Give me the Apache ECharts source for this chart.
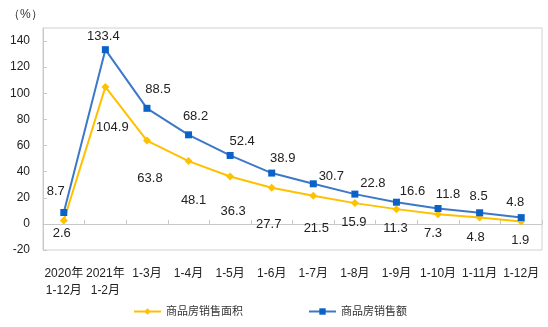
<!DOCTYPE html>
<html><head><meta charset="utf-8">
<script src="https://cdn.jsdelivr.net/npm/echarts@6/dist/echarts.min.js"></script>
<style>html,body{margin:0;padding:0;background:#fff}#c{width:548px;height:327px}</style>
</head><body><div id="c"></div>
<script>
const categories = ['2020年\n1-12月','2021年\n1-2月','1-3月','1-4月','1-5月','1-6月','1-7月','1-8月','1-9月','1-10月','1-11月','1-12月'];
const areaName = '商品房销售面积';
const salesName = '商品房销售额';
const areaValues = [2.6,104.9,63.8,48.1,36.3,27.7,21.5,15.9,11.3,7.3,4.8,1.9];
const salesValues = [8.7,133.4,88.5,68.2,52.4,38.9,30.7,22.8,16.6,11.8,8.5,4.8];
const yTicks = {min:-20, max:150, interval:20};
// label offsets (style only)
const areaOffsets = [[-2,13],[7,41],[3,38],[5,39],[3,35],[-3,37],[3,33],[-1,19],[-1,19],[-5,19],[-4,20],[-1,19]];
const salesOffsets = [[-8,-21],[-2,-13],[11,-19],[7,-18],[12,-14],[11,-15],[18,-7],[18,-11],[16,-11],[10,-14],[-1,-16],[-6,-15]];
const FONT = '"Liberation Sans","Noto Sans CJK SC",Arial,sans-serif';
const lbl = {show:true, position:'inside', fontSize:13, color:'#222', fontFamily:FONT, formatter:p=>p.value.toFixed(1)};
const chart = echarts.init(document.getElementById('c'), null, {renderer:'canvas'});
chart.setOption({
  animation:false,
  backgroundColor:'#fff',
  grid:{left:43, right:6, top:28, bottom:77, show:true, borderColor:'#d0d0d0', borderWidth:1, containLabel:false},
  graphic:[{type:'text', left:8, top:9, style:{text:'（%）', fontSize:12, fill:'#333', font:'12px '+FONT}}],
  legend:{left:133, top:306, padding:0, itemWidth:27, itemHeight:8, itemGap:65,
    textStyle:{fontSize:11, color:'#333', fontFamily:FONT},
    data:[areaName, salesName]},
  xAxis:{type:'category', data:categories, boundaryGap:true,
    axisLine:{lineStyle:{color:'#c8c8c8'}},
    axisTick:{show:true, inside:true, length:4, lineStyle:{color:'#c8c8c8'}},
    axisLabel:{color:'#222', fontSize:12, margin:15, lineHeight:17, fontFamily:FONT, interval:0}},
  yAxis:{type:'value', min:yTicks.min, max:yTicks.max, interval:yTicks.interval,
    axisLine:{show:true, lineStyle:{color:'#c8c8c8'}},
    axisTick:{show:true, inside:true, length:4, lineStyle:{color:'#c8c8c8'}},
    splitLine:{show:false},
    axisLabel:{color:'#222', fontSize:12, margin:13, fontFamily:FONT, showMaxLabel:false}},
  series:[
    {name:areaName, type:'line', symbol:'diamond', symbolSize:8,
     lineStyle:{color:'#FFC000', width:2}, itemStyle:{color:'#FFC000'},
     data:areaValues.map((v,i)=>({value:v, label:Object.assign({}, lbl, {offset:areaOffsets[i]})})),
     label:lbl, z:2},
    {name:salesName, type:'line', symbol:'rect', symbolSize:7,
     lineStyle:{color:'#3C78C8', width:2}, itemStyle:{color:'#0A62C8'},
     data:salesValues.map((v,i)=>({value:v, label:Object.assign({}, lbl, {offset:salesOffsets[i]})})),
     label:lbl, z:3}
  ]
});
</script></body></html>
